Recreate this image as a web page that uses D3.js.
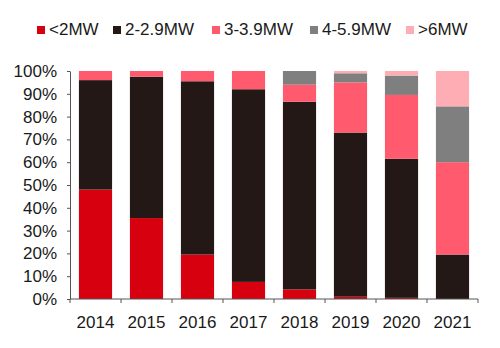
<!DOCTYPE html>
<html>
<head>
<meta charset="utf-8">
<script src="https://cdn.jsdelivr.net/npm/d3@7"></script>
<style>
  html, body { margin: 0; padding: 0; background: #fff; }
  svg { display: block; font-family: "Liberation Sans", Arial, sans-serif; }
</style>
</head>
<body>
<svg id="chart" width="500" height="348"></svg>
<script>
// Share of installed capacity by turbine size class (%)
const years = ["2014", "2015", "2016", "2017", "2018", "2019", "2020", "2021"];
const seriesNames = ["<2MW", "2-2.9MW", "3-3.9MW", "4-5.9MW", ">6MW"];
const under2 = [48, 35.5, 19.5, 7.5, 4.2, 1, 0.5, 0];
const from2to29 = [48, 62, 76, 84.5, 82.3, 72, 61, 19.5];
const from3to39 = [4, 2.5, 4.5, 8, 7.5, 22, 28, 40.5];
const from4to59 = [0, 0, 0, 0, 6, 4, 8.5, 24.5];
const over6 = [0, 0, 0, 0, 0, 1, 2, 15.5];
const yTicks = [0, 10, 20, 30, 40, 50, 60, 70, 80, 90, 100];
const colors = ["#d7000f", "#231815", "#ff5a6e", "#7f7f7f", "#ffadb5"];

const seriesValues = [under2, from2to29, from3to39, from4to59, over6];
const rows = years.map((y, i) => {
  const r = { year: y };
  seriesNames.forEach((s, k) => { r[s] = seriesValues[k][i]; });
  return r;
});

const svg = d3.select("#chart");
const margin = { left: 70, right: 22, top: 71, bottom: 49 };
const W = 500, H = 348;

const x = d3.scaleBand().domain(years)
  .range([margin.left, W - margin.right])
  .paddingInner(0.35).paddingOuter(0.175);
const y = d3.scaleLinear().domain([0, 100]).range([H - margin.bottom, margin.top]);
const color = d3.scaleOrdinal().domain(seriesNames).range(colors);

const stacked = d3.stack().keys(seriesNames)(rows);

svg.append("g").selectAll("g").data(stacked).join("g")
  .attr("fill", d => color(d.key))
  .selectAll("rect").data(d => d).join("rect")
  .attr("x", d => x(d.data.year))
  .attr("width", x.bandwidth())
  .attr("y", d => y(d[1]))
  .attr("height", d => y(d[0]) - y(d[1]));

// y axis
const yAxis = svg.append("g")
  .attr("transform", `translate(${margin.left},0)`)
  .call(d3.axisLeft(y).tickValues(yTicks).tickFormat(d => d + "%").tickSize(3).tickSizeOuter(0));
yAxis.selectAll("line, path").attr("stroke", "#555");
yAxis.selectAll("text").attr("font-size", 17).attr("fill", "#1a1a1a")
  .attr("x", -13).attr("font-family", "Liberation Sans, Arial, sans-serif");

// x axis with ticks at band boundaries
const xAxisG = svg.append("g").attr("transform", `translate(0,${H - margin.bottom})`);
xAxisG.append("line")
  .attr("x1", margin.left).attr("x2", W - margin.right)
  .attr("stroke", "#555");
const step = x.step();
const bounds = years.map(yr => x(yr) - x.paddingInner() * step / 2).concat([W - margin.right]);
xAxisG.selectAll("line.tick").data(bounds).join("line")
  .attr("class", "tick")
  .attr("x1", d => d).attr("x2", d => d)
  .attr("y1", 0).attr("y2", 4)
  .attr("stroke", "#555");
xAxisG.selectAll("text").data(years).join("text")
  .attr("x", d => x(d) + x.bandwidth() / 2)
  .attr("y", 28.5)
  .attr("text-anchor", "middle")
  .attr("font-size", 17)
  .attr("fill", "#1a1a1a")
  .text(d => d);

// legend
const legendX = [37, 113, 212, 310, 406];
const legend = svg.append("g").selectAll("g").data(seriesNames).join("g")
  .attr("transform", (d, i) => `translate(${legendX[i]},0)`);
legend.append("rect")
  .attr("x", 0).attr("y", 26).attr("width", 8).attr("height", 8)
  .attr("fill", d => color(d));
legend.append("text")
  .attr("x", 12).attr("y", 35)
  .attr("font-size", 17)
  .attr("fill", "#1a1a1a")
  .text(d => d);
</script>
</body>
</html>
